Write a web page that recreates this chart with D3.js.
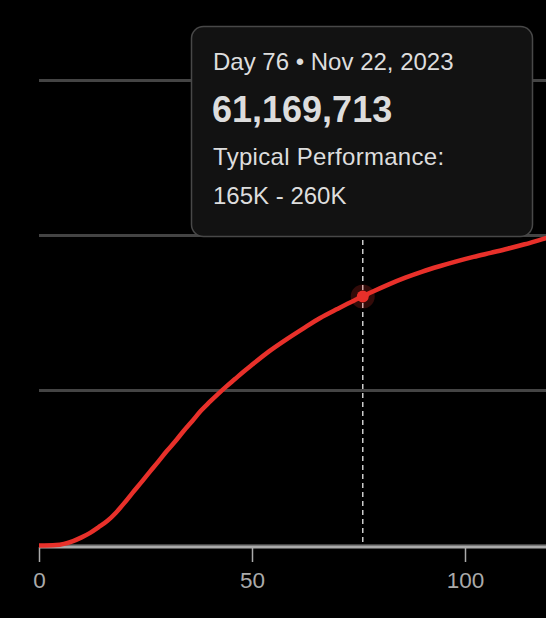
<!DOCTYPE html>
<html>
<head>
<meta charset="utf-8">
<script src="https://cdn.jsdelivr.net/npm/d3@7"></script>
<style>
  body { margin: 0; background: #000; }
  svg { display: block; font-family: "Liberation Sans", Arial, sans-serif; }
</style>
</head>
<body>
<div id="chart"></div>
<script>
// cumulative total by day since start
const days = [0, 4, 8, 10, 12, 14, 16, 18, 20, 22, 24, 26, 28, 30, 32, 34, 36, 38, 40, 42, 44, 46, 48, 50,
  54, 58, 62, 66, 70, 74, 76, 78, 82, 86, 90, 94, 98, 102, 106, 110, 114, 118, 120];
const totals = [0, 0.12, 1.1, 2.0, 3.1, 4.5, 6.0, 8.0, 10.4, 13.0, 15.5, 18.1, 20.6, 23.2, 25.6, 28.2, 30.6, 33.1,
  35.2, 37.2, 39.1, 40.9, 42.7, 44.4, 47.7, 50.6, 53.3, 55.9, 58.1, 60.2, 61.169713, 62.2, 64.1, 65.8, 67.3,
  68.6, 69.8, 70.9, 71.9, 72.9, 74.0, 75.2, 75.8].map(v => v * 1e6);
const gridValues = [0, 38.08e6, 76.16e6, 114.24e6];
const xTicks = [0, 50, 100];

const hoverDay = 76;
const startDate = new Date(2023, 8, 7);
const typicalRange = "165K - 260K";

const width = 546, height = 618;

const svg = d3.select("#chart").append("svg")
  .attr("width", width)
  .attr("height", height);

svg.append("rect").attr("width", width).attr("height", height).attr("fill", "#000");

const x = d3.scaleLinear().domain([0, 100]).range([39, 465]);
const y = d3.scaleLinear().domain([0, 114.24e6]).range([545.5, 80.5]);

const data = days.map((d, i) => ({ day: d, total: totals[i] }));

//grid lines
svg.append("g")
  .selectAll("line")
  .data(gridValues)
  .join("line")
  .attr("x1", x(0))
  .attr("x2", width)
  .attr("y1", d => y(d))
  .attr("y2", d => y(d))
  .attr("stroke", "#444")
  .attr("stroke-width", 3);

//x axis
const xAxis = svg.append("g")
  .attr("transform", `translate(0,${y(0) + 1.5})`)
  .call(d3.axisBottom(x).tickValues(xTicks).tickSize(15).tickPadding(10).tickSizeOuter(0));

xAxis.select(".domain")
  .attr("d", `M${x(0)},0H${width}`)
  .attr("stroke", "#aaa")
  .attr("stroke-width", 3);
xAxis.selectAll(".tick line").attr("stroke", "#aaa").attr("stroke-width", 1.5);
xAxis.selectAll(".tick text")
  .attr("fill", "#aaa")
  .attr("font-size", 22.5)
  .attr("font-family", "Liberation Sans, Arial, sans-serif");

//hover guide
svg.append("line")
  .attr("x1", x(hoverDay)).attr("x2", x(hoverDay))
  .attr("y1", 60).attr("y2", y(0))
  .attr("stroke", "#ccc")
  .attr("stroke-width", 1.5)
  .attr("stroke-dasharray", "5,4");

//the line
const line = d3.line()
  .x(d => x(d.day))
  .y(d => y(d.total))
  .curve(d3.curveMonotoneX);

svg.append("path")
  .datum(data)
  .attr("d", line)
  .attr("fill", "none")
  .attr("stroke", "#e8302a")
  .attr("stroke-width", 4.5)
  .attr("stroke-linejoin", "round");

//hovered point
const hovered = data.find(d => d.day === hoverDay);
svg.append("circle")
  .attr("cx", x(hovered.day)).attr("cy", y(hovered.total))
  .attr("r", 12)
  .attr("fill", "#e8302a")
  .attr("fill-opacity", 0.22);
svg.append("circle")
  .attr("cx", x(hovered.day)).attr("cy", y(hovered.total))
  .attr("r", 6)
  .attr("fill", "#e8302a");

//tooltip
const hoverDate = d3.timeDay.offset(startDate, hoverDay);
const tip = svg.append("g").attr("transform", "translate(191,26)");
tip.append("rect")
  .attr("x", 0.5).attr("y", 0.5)
  .attr("width", 341).attr("height", 210)
  .attr("rx", 12)
  .attr("fill", "#121212")
  .attr("stroke", "#484848")
  .attr("stroke-width", 1.5);

tip.append("text")
  .attr("x", 22).attr("y", 43.5)
  .attr("fill", "#ddd")
  .attr("font-size", 24)
  .text(`Day ${hoverDay} • ${d3.timeFormat("%b %-d, %Y")(hoverDate)}`);
tip.append("text")
  .attr("x", 21).attr("y", 96)
  .attr("fill", "#ddd")
  .attr("font-size", 36)
  .attr("font-weight", "bold")
  .text(d3.format(",")(Math.round(hovered.total)));
tip.append("text")
  .attr("x", 22).attr("y", 139)
  .attr("fill", "#ddd")
  .attr("font-size", 24)
  .attr("letter-spacing", 0.3)
  .text("Typical Performance:");
tip.append("text")
  .attr("x", 22).attr("y", 178)
  .attr("fill", "#ddd")
  .attr("font-size", 24)
  .text(typicalRange);
</script>
</body>
</html>
